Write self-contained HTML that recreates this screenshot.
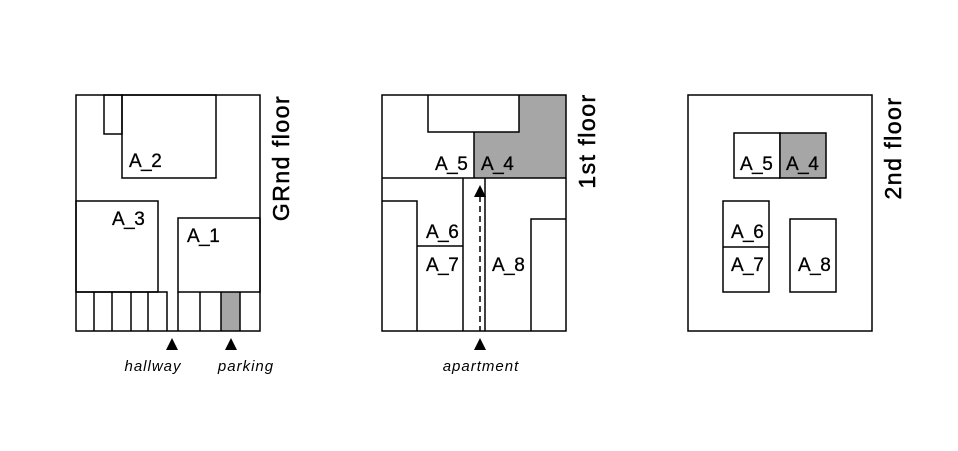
<!DOCTYPE html>
<html><head><style>
html,body{margin:0;padding:0;background:#fff;}
svg{display:block;}
text{font-family:"Liberation Sans",sans-serif;fill:#000;}
.l{font-size:19px;letter-spacing:-0.5px;stroke:#000;stroke-width:0.3px;}
.i{font-size:15px;font-style:italic;letter-spacing:1px;}
.f{font-size:23px;letter-spacing:1.5px;stroke:#000;stroke-width:0.5px;}
</style></head><body>
<svg width="958" height="451" viewBox="0 0 958 451" xmlns="http://www.w3.org/2000/svg">
<g fill="none" stroke="#000" stroke-width="1.5">
<rect x="221" y="292" width="19" height="39" fill="#a6a6a6" stroke="none"/>
<rect x="76" y="95" width="184" height="236"/>
<rect x="104" y="95" width="18" height="39"/>
<rect x="122" y="95" width="94" height="83"/>
<rect x="76" y="201" width="82" height="91"/>
<rect x="178" y="218" width="82" height="74"/>
<path d="M76 292H167V331M94 292V331M112 292V331M131 292V331M148 292V331M178 292V331M200 292V331M221 292V331M240 292V331"/>
<path d="M474 132H519V95H566V178H474Z" fill="#a6a6a6" stroke="none"/>
<rect x="382" y="95" width="184" height="236"/>
<path d="M428 95V132H519V95M519 132H474V178M382 178H566"/>
<path d="M382 201H417V331M417 246H463M463 178V331M485 178V331M531 331V219H566"/>
<path d="M480 196V331" stroke-dasharray="6,4"/>
<rect x="688" y="95" width="184" height="236"/>
<rect x="734" y="133" width="46" height="45"/>
<rect x="780" y="133" width="46" height="45" fill="#a6a6a6"/>
<rect x="723" y="201" width="46" height="91"/>
<path d="M723 247H769"/>
<rect x="790" y="219" width="46" height="73"/>
</g>
<g fill="#000">
<polygon points="172,338 166,350 178,350"/>
<polygon points="231,338 225,350 237,350"/>
<polygon points="480,338 474,350 486,350"/>
<polygon points="480,185 474,197 486,197"/>
</g>
<text class="l" x="129" y="167">A_2</text>
<text class="l" x="112" y="225">A_3</text>
<text class="l" x="187" y="242">A_1</text>
<text class="l" x="435" y="170">A_5</text>
<text class="l" x="481" y="170">A_4</text>
<text class="l" x="426" y="238">A_6</text>
<text class="l" x="426" y="271">A_7</text>
<text class="l" x="492" y="271">A_8</text>
<text class="l" x="740" y="170">A_5</text>
<text class="l" x="786" y="170">A_4</text>
<text class="l" x="731" y="238">A_6</text>
<text class="l" x="731" y="271">A_7</text>
<text class="l" x="798" y="271">A_8</text>
<text class="i" x="153" y="371" text-anchor="middle">hallway</text>
<text class="i" x="246" y="371" text-anchor="middle">parking</text>
<text class="i" x="481" y="371" text-anchor="middle">apartment</text>
<text class="f" transform="translate(289,158) rotate(-90)" text-anchor="middle">GRnd floor</text>
<text class="f" transform="translate(595,141) rotate(-90)" text-anchor="middle">1st floor</text>
<text class="f" transform="translate(901,148) rotate(-90)" text-anchor="middle">2nd floor</text>
</svg>
</body></html>
